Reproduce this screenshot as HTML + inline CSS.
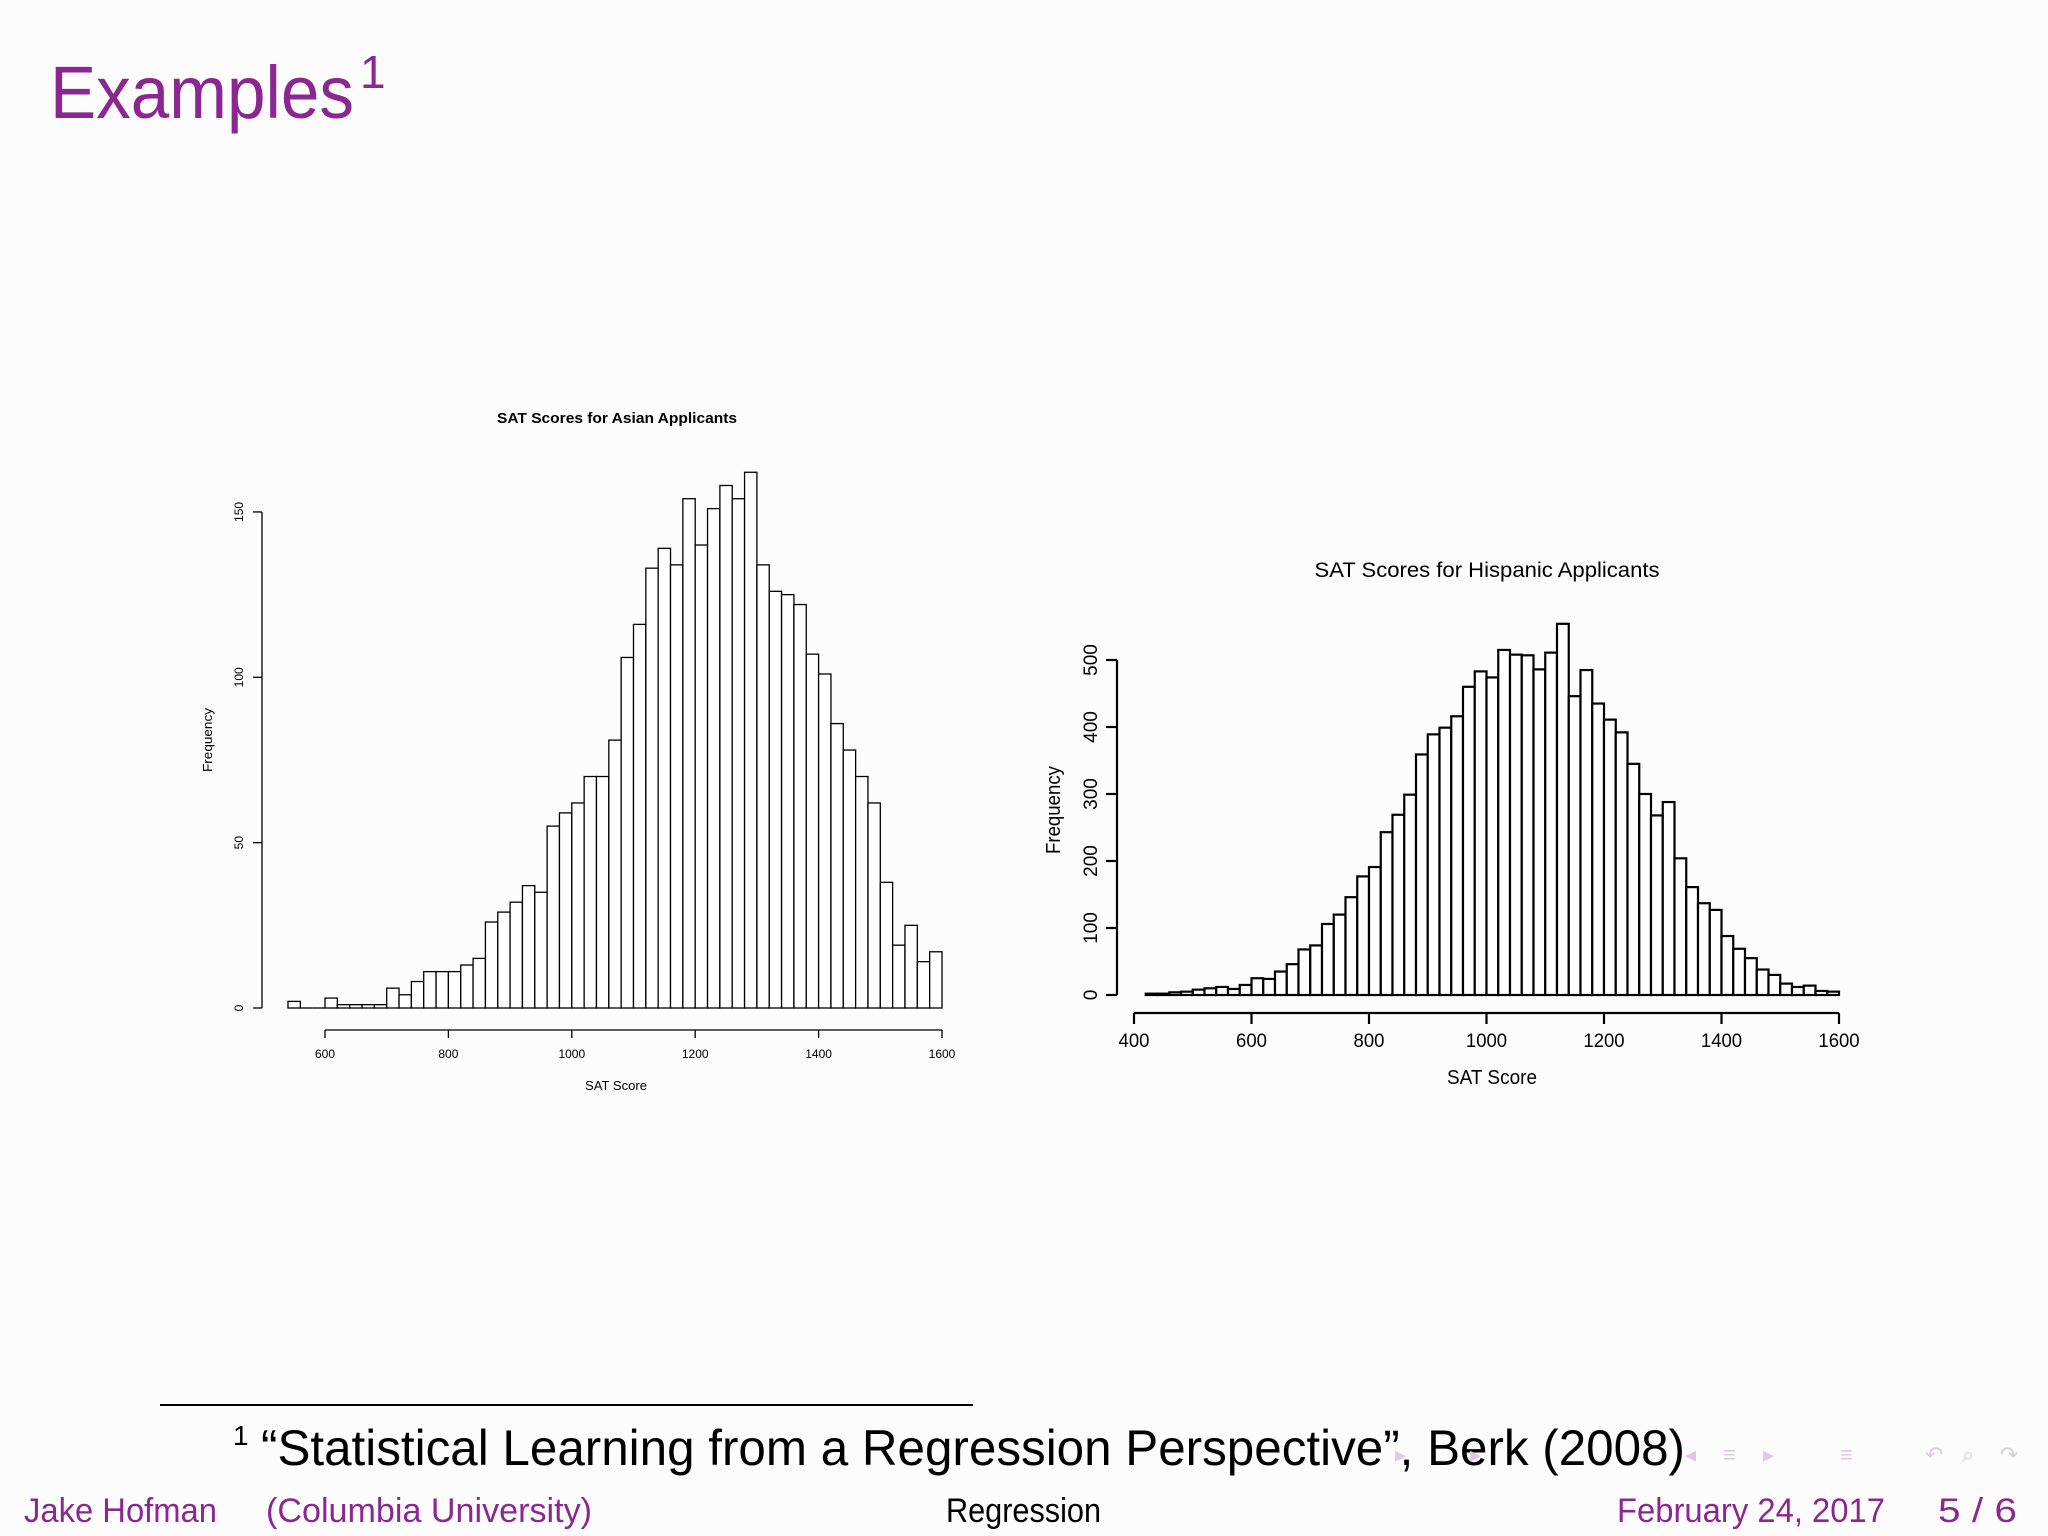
<!DOCTYPE html>
<html><head><meta charset="utf-8"><style>
html,body{margin:0;padding:0;background:#fdfcfd;}
svg{display:block}
</style></head><body>
<svg id="s" width="2048" height="1536" viewBox="0 0 2048 1536" xmlns="http://www.w3.org/2000/svg" font-family="Liberation Sans, sans-serif">
<rect width="2048" height="1536" fill="#fdfcfd"/>
<text x="50" y="118" font-size="74" fill="#8b2790" textLength="304" lengthAdjust="spacingAndGlyphs">Examples</text>
<text x="360" y="88" font-size="46" fill="#8b2790">1</text>

<g id="L" stroke="#000" stroke-width="1.3" fill="#fff"></g>
<text x="617" y="423" font-size="15" font-weight="bold" text-anchor="middle" textLength="240" lengthAdjust="spacingAndGlyphs">SAT Scores for Asian Applicants</text>
<text x="616" y="1090" font-size="13" text-anchor="middle" textLength="62" lengthAdjust="spacingAndGlyphs">SAT Score</text>
<text transform="translate(212,740) rotate(-90)" font-size="13" text-anchor="middle" textLength="64" lengthAdjust="spacingAndGlyphs">Frequency</text>

<g id="R" stroke="#000" stroke-width="2.2" fill="#fff"></g>
<text x="1487" y="577" font-size="21" text-anchor="middle" textLength="345" lengthAdjust="spacingAndGlyphs">SAT Scores for Hispanic Applicants</text>
<text x="1492" y="1084" font-size="20" text-anchor="middle" textLength="90" lengthAdjust="spacingAndGlyphs">SAT Score</text>
<text transform="translate(1060,810) rotate(-90)" font-size="20" text-anchor="middle" textLength="88" lengthAdjust="spacingAndGlyphs">Frequency</text>

<line x1="160" y1="1405" x2="973" y2="1405" stroke="#000" stroke-width="2"/>
<text x="233" y="1445" font-size="28">1</text>
<text x="261" y="1465" font-size="50" textLength="1424" lengthAdjust="spacingAndGlyphs">“Statistical Learning from a Regression Perspective”, Berk (2008)</text>
<g font-size="34" fill="#8b2790">
<text x="24" y="1522" textLength="193" lengthAdjust="spacingAndGlyphs">Jake Hofman</text>
<text x="266" y="1522" textLength="326" lengthAdjust="spacingAndGlyphs">(Columbia University)</text>
<text x="946" y="1522" fill="#000" textLength="155" lengthAdjust="spacingAndGlyphs">Regression</text>
<text x="1617" y="1522" textLength="268" lengthAdjust="spacingAndGlyphs">February 24, 2017</text>
<text x="1938" y="1522" textLength="79" lengthAdjust="spacingAndGlyphs">5 / 6</text>
</g>
<g fill="#dccbde" font-size="22">
<text x="1395" y="1462">▸</text><text x="1470" y="1462">▸</text><text x="1685" y="1462">◂</text><text x="1723" y="1462">≡</text><text x="1763" y="1462">▸</text>
<text x="1840" y="1462">≡</text><text x="1925" y="1462">↶</text><text x="1962" y="1462">⌕</text><text x="2000" y="1462">↷</text>
</g>
</svg>
<script>
var NS="http://www.w3.org/2000/svg";
function el(p,t,a,txt){var e=document.createElementNS(NS,t);for(var k in a)e.setAttribute(k,a[k]);if(txt!==undefined)e.textContent=txt;p.appendChild(e);return e;}
var svg=document.getElementById('s');
var L=document.getElementById('L');
var lh=[2,0,0,3,1,1,1,1,6,4,8,11,11,11,13,15,26,29,32,37,35,55,59,62,70,70,81,106,116,133,139,134,154,140,151,158,154,162,134,126,125,122,107,101,86,78,70,62,38,19,25,14,17];
function lx(v){return 325+(v-600)*0.617;} function ly(f){return 1008-f*3.307;}
lh.forEach(function(h,i){var v=540+i*20;if(h>0)el(L,'rect',{x:lx(v),y:ly(h),width:lx(v+20)-lx(v),height:h*3.307});else el(L,'line',{x1:lx(v),y1:1008,x2:lx(v+20),y2:1008});});
el(L,'line',{x1:lx(600),y1:1030,x2:lx(1600),y2:1030});
[600,800,1000,1200,1400,1600].forEach(function(v){el(L,'line',{x1:lx(v),y1:1030,x2:lx(v),y2:1038});el(svg,'text',{x:lx(v),y:1058,'font-size':12,'text-anchor':'middle'},String(v));});
el(L,'line',{x1:262,y1:ly(0),x2:262,y2:ly(150)});
[0,50,100,150].forEach(function(f){el(L,'line',{x1:253,y1:ly(f),x2:262,y2:ly(f)});el(svg,'text',{transform:'translate(243,'+ly(f)+') rotate(-90)','font-size':12,'text-anchor':'middle'},String(f));});
var R=document.getElementById('R');
var rh=[2,2,4,5,8,10,12,9,15,25,24,35,46,68,74,106,120,146,177,191,243,269,299,359,389,399,416,460,483,474,515,508,507,486,511,554,446,485,435,411,392,345,300,268,288,204,161,137,127,88,69,55,38,30,17,12,14,6,5];
function rx(v){return 1134+(v-400)*0.5875;} function ry(f){return 995-f*0.67;}
rh.forEach(function(h,i){var v=420+i*20;el(R,'rect',{x:rx(v),y:ry(h),width:rx(v+20)-rx(v),height:h*0.67});});
el(R,'line',{x1:rx(400),y1:1013,x2:rx(1600),y2:1013});
[400,600,800,1000,1200,1400,1600].forEach(function(v){el(R,'line',{x1:rx(v),y1:1013,x2:rx(v),y2:1024});el(svg,'text',{x:rx(v),y:1047,'font-size':19,'text-anchor':'middle',textLength:String(v).length*10.3,lengthAdjust:'spacingAndGlyphs'},String(v));});
el(R,'line',{x1:1117,y1:ry(0),x2:1117,y2:ry(500)});
[0,100,200,300,400,500].forEach(function(f){el(R,'line',{x1:1106,y1:ry(f),x2:1117,y2:ry(f)});el(svg,'text',{transform:'translate(1097,'+ry(f)+') rotate(-90)','font-size':19,'text-anchor':'middle'},String(f));});
</script>
</body></html>
